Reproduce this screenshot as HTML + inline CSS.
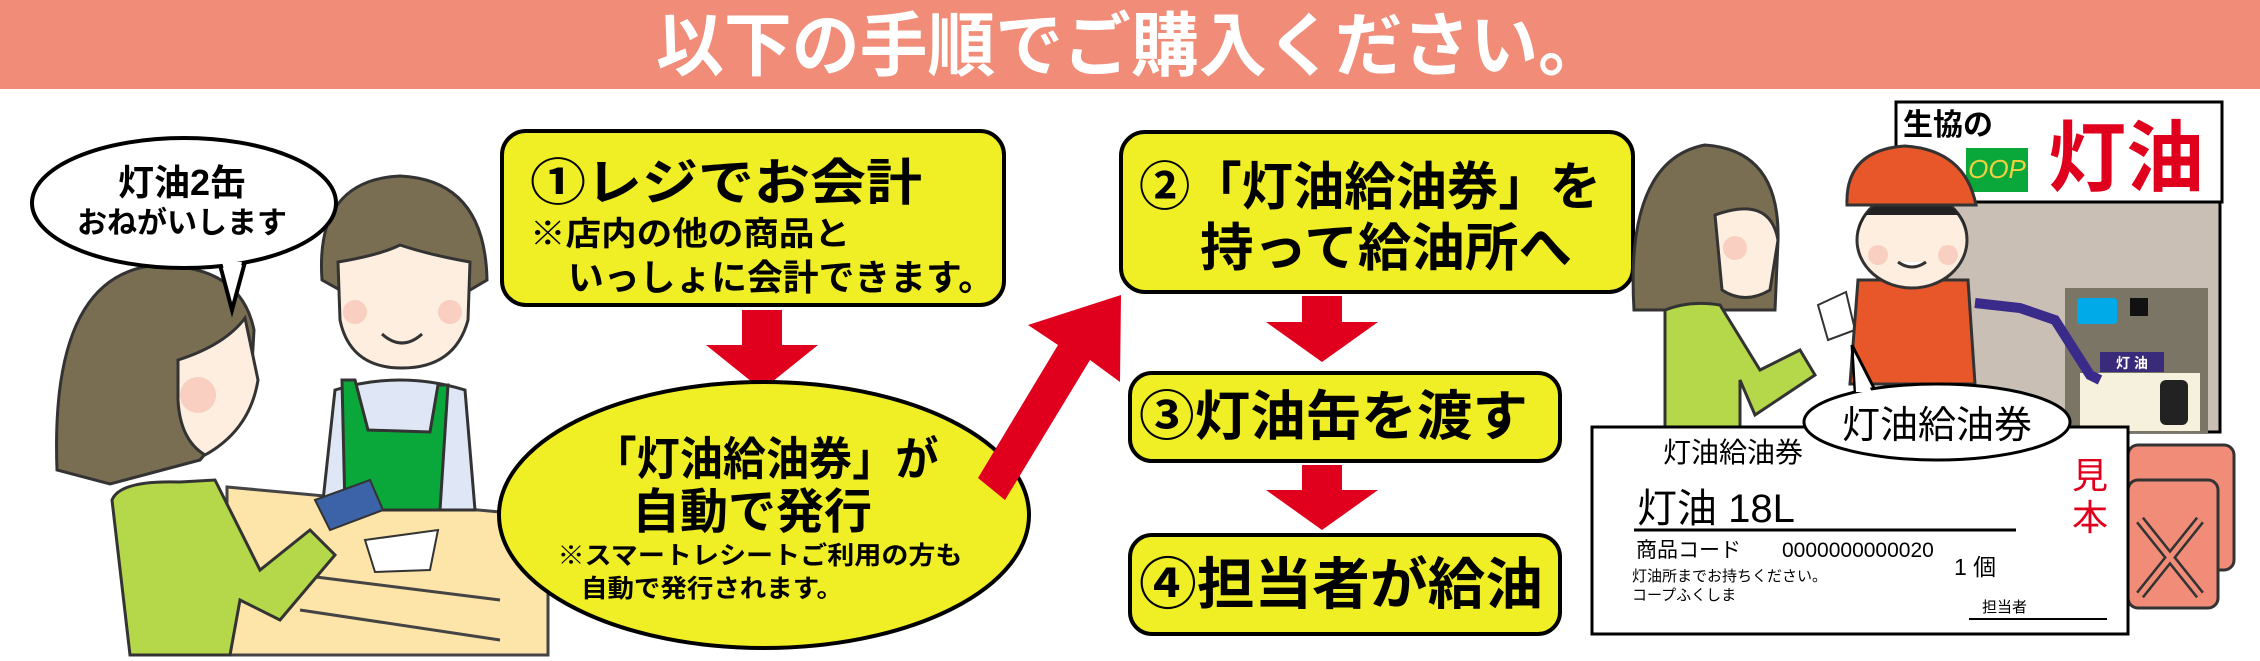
<!DOCTYPE html>
<html><head><meta charset="utf-8"><style>
html,body{margin:0;padding:0;background:#fff;}
svg{display:block;}
text{font-family:"Liberation Sans","Noto Sans CJK JP",sans-serif;font-weight:bold;}
</style></head><body>
<svg width="2260" height="661" viewBox="0 0 2260 661" xmlns="http://www.w3.org/2000/svg">
<!-- header -->
<rect x="0" y="0" width="2260" height="89" fill="#f08c78"/>
<text x="1131" y="70" font-size="70" fill="#fff" text-anchor="middle" textLength="950" lengthAdjust="spacingAndGlyphs">以下の手順でご購入ください。</text>

<!-- left illustration -->
<polygon points="227,487 500,512 548,512 548,655 227,655" fill="#fde4a8" stroke="#444" stroke-width="3"/>
<line x1="300" y1="575" x2="500" y2="600" stroke="#444" stroke-width="3"/>
<line x1="300" y1="610" x2="500" y2="640" stroke="#444" stroke-width="3"/>
<!-- clerk -->
<path d="M322,510 L335,390 Q400,370 465,390 L475,510 Z" fill="#dfe6f5" stroke="#333" stroke-width="3"/>
<path d="M355,380 L368,430 L430,432 L438,385 L448,385 L440,510 L345,510 L342,380 Z" fill="#0aa83a" stroke="#333" stroke-width="3"/>
<path d="M322,280 Q315,180 400,176 Q485,180 487,280 L470,290 L340,290 Z" fill="#7a6e52" stroke="#333" stroke-width="3"/>
<path d="M338,262 Q380,255 400,245 Q430,255 470,262 L468,320 Q455,368 402,368 Q350,368 340,320 Z" fill="#fdeee0" stroke="#333" stroke-width="3"/>
<circle cx="355" cy="312" r="12" fill="#f8cfc0"/><circle cx="450" cy="312" r="12" fill="#f8cfc0"/>
<path d="M382,334 Q402,352 422,334" fill="none" stroke="#333" stroke-width="3"/>
<polygon points="315,500 370,480 383,510 330,530" fill="#3c63a8" stroke="#333" stroke-width="2"/>
<polygon points="365,540 438,530 430,570 375,572" fill="#fff" stroke="#333" stroke-width="2"/>
<!-- woman left -->
<path d="M57,470 Q50,280 150,266 Q240,262 254,330 L250,400 L200,460 L110,484 Z" fill="#7a6e52" stroke="#333" stroke-width="3"/>
<path d="M178,360 Q225,345 245,318 L258,380 Q250,430 205,455 Q180,440 178,400 Z" fill="#fdeee0" stroke="#333" stroke-width="3"/>
<circle cx="198" cy="395" r="18" fill="#f8cfc0"/>
<path d="M112,500 Q120,480 180,482 L215,480 L260,570 L310,530 L335,555 L280,620 L240,600 L230,655 L130,655 Z" fill="#b4d84a" stroke="#333" stroke-width="3"/>
<!-- bubble left -->
<path d="M220,265 L232,310 L245,262 Z" fill="#fff" stroke="#000" stroke-width="4"/>
<ellipse cx="184" cy="203" rx="152" ry="65" fill="#fff" stroke="#000" stroke-width="4"/>
<path d="M222,262 L232,300 L242,262 Z" fill="#fff"/>
<text x="182" y="195" font-size="36" text-anchor="middle">灯油2缶</text>
<text x="182" y="233" font-size="30" text-anchor="middle">おねがいします</text>

<!-- box1 -->
<rect x="502" y="131" width="502" height="174" rx="24" fill="#f0ef26" stroke="#000" stroke-width="4"/>
<text x="530" y="200" font-size="50" textLength="392" lengthAdjust="spacingAndGlyphs">①レジでお会計</text>
<text x="530" y="245" font-size="33" textLength="320" lengthAdjust="spacingAndGlyphs">※店内の他の商品と</text>
<text x="568" y="290" font-size="36" textLength="426" lengthAdjust="spacingAndGlyphs">いっしょに会計できます。</text>
<!-- arrow1 -->
<polygon points="742,310 782,310 782,345 818,345 762,390 706,345 742,345" fill="#e0001e"/>
<!-- ellipse -->
<ellipse cx="764" cy="515" rx="265" ry="133" fill="#f0ef26" stroke="#000" stroke-width="4"/>
<text x="766" y="475" font-size="46" text-anchor="middle" textLength="345" lengthAdjust="spacingAndGlyphs">「灯油給油券」が</text>
<text x="752" y="528" font-size="48" text-anchor="middle">自動で発行</text>
<text x="760" y="564" font-size="25" text-anchor="middle" textLength="405" lengthAdjust="spacingAndGlyphs">※スマートレシートご利用の方も</text>
<text x="712" y="597" font-size="25" text-anchor="middle" textLength="262" lengthAdjust="spacingAndGlyphs">自動で発行されます。</text>
<!-- diagonal arrow -->
<polygon points="978,478 1005,500 1090,360 1120,382 1121,295 1028,325 1058,345" fill="#e0001e"/>

<!-- box2 -->
<rect x="1121" y="132" width="512" height="160" rx="24" fill="#f0ef26" stroke="#000" stroke-width="4"/>
<text x="1139" y="205" font-size="52" textLength="462" lengthAdjust="spacingAndGlyphs">②「灯油給油券」を</text>
<text x="1200" y="266" font-size="52" textLength="372" lengthAdjust="spacingAndGlyphs">持って給油所へ</text>
<polygon points="1302,296 1342,296 1342,322 1378,322 1322,362 1266,322 1302,322" fill="#e0001e"/>
<!-- box3 -->
<rect x="1130" y="373" width="430" height="88" rx="22" fill="#f0ef26" stroke="#000" stroke-width="4"/>
<text x="1139" y="435" font-size="54" textLength="389" lengthAdjust="spacingAndGlyphs">③灯油缶を渡す</text>
<polygon points="1302,465 1342,465 1342,490 1378,490 1322,530 1266,490 1302,490" fill="#e0001e"/>
<!-- box4 -->
<rect x="1130" y="535" width="430" height="99" rx="22" fill="#f0ef26" stroke="#000" stroke-width="4"/>
<text x="1139" y="604" font-size="56" textLength="404" lengthAdjust="spacingAndGlyphs">④担当者が給油</text>

<!-- right illustration -->
<rect x="1937" y="202" width="283" height="230" fill="#c9bfb5" stroke="#000" stroke-width="3"/>
<rect x="1896" y="102" width="326" height="100" fill="#fff" stroke="#000" stroke-width="3"/>
<text x="1948" y="135" font-size="30" text-anchor="middle">生協の</text>
<rect x="1966" y="148" width="62" height="44" fill="#0aa83a"/>
<text x="1997" y="178" font-size="26" fill="#f0d040" font-style="italic" text-anchor="middle" style="font-weight:normal">OOP</text>
<text x="2126" y="185" font-size="78" fill="#e0001e" text-anchor="middle">灯油</text>
<!-- pump -->
<rect x="2065" y="288" width="143" height="145" fill="#7a7564"/>
<rect x="2077" y="298" width="40" height="26" rx="3" fill="#00a9e8"/>
<rect x="2130" y="298" width="18" height="18" fill="#111"/>
<rect x="2100" y="352" width="64" height="20" fill="#3a2a7a"/>
<text x="2132" y="368" font-size="14" fill="#fff" text-anchor="middle">灯 油</text>
<rect x="2080" y="373" width="120" height="58" fill="#f6f1dc"/>
<rect x="2160" y="380" width="28" height="45" rx="6" fill="#222"/>
<path d="M1975,303 L2020,308 L2055,320 L2090,375 L2100,380" fill="none" stroke="#3a2a8a" stroke-width="10"/>
<!-- woman right -->
<path d="M1634,310 Q1625,160 1705,145 Q1780,150 1778,240 L1775,310 Z" fill="#7a6e52" stroke="#333" stroke-width="3"/>
<path d="M1715,215 Q1770,195 1778,240 L1770,290 Q1745,305 1722,290 Z" fill="#fdeee0" stroke="#333" stroke-width="3"/>
<circle cx="1735" cy="248" r="12" fill="#f8cfc0"/>
<path d="M1665,310 Q1690,300 1720,305 L1760,370 L1800,350 L1815,375 L1755,415 L1740,380 L1740,430 L1665,430 Z" fill="#b4d84a" stroke="#333" stroke-width="3"/>
<polygon points="1818,305 1846,292 1855,330 1828,340" fill="#fff" stroke="#333" stroke-width="2"/>
<!-- attendant -->
<path d="M1858,280 L1968,280 L1975,384 L1850,384 Z" fill="#e8572a" stroke="#333" stroke-width="3"/>
<ellipse cx="1912" cy="240" rx="55" ry="48" fill="#fdeee0" stroke="#333" stroke-width="3"/>
<path d="M1857,235 Q1860,200 1912,195 Q1965,200 1968,235 L1960,215 L1865,215 Z" fill="#222"/>
<path d="M1847,205 Q1845,150 1905,146 Q1965,150 1976,205 Z" fill="#e8572a" stroke="#333" stroke-width="3"/>
<circle cx="1878" cy="255" r="10" fill="#f8cfc0"/><circle cx="1948" cy="255" r="10" fill="#f8cfc0"/>
<path d="M1898,262 Q1912,272 1926,262" fill="#fff" stroke="#333" stroke-width="3"/>
<!-- cans -->
<rect x="2128" y="445" width="106" height="125" rx="10" fill="#f08c78" stroke="#333" stroke-width="3"/>
<rect x="2128" y="480" width="90" height="128" rx="10" fill="#f08c78" stroke="#333" stroke-width="3"/>
<path d="M2140,520 L2200,595 M2200,520 L2140,595" stroke="#333" stroke-width="10"/>
<path d="M2140,520 L2200,595 M2200,520 L2140,595" stroke="#f08c78" stroke-width="5"/>
<!-- ticket -->
<rect x="1592" y="427" width="536" height="207" fill="#fff" stroke="#000" stroke-width="3"/>
<text x="1663" y="462" font-size="28" style="font-weight:normal">灯油給油券</text>
<text x="1637" y="522" font-size="40" style="font-weight:normal">灯油 18L</text>
<line x1="1634" y1="530" x2="2016" y2="530" stroke="#000" stroke-width="3"/>
<text x="1636" y="557" font-size="21" style="font-weight:normal">商品コード</text>
<text x="1782" y="557" font-size="21" style="font-weight:normal">0000000000020</text>
<text x="1954" y="575" font-size="23" style="font-weight:normal">1 個</text>
<text x="1632" y="581" font-size="15" style="font-weight:normal">灯油所までお持ちください。</text>
<text x="1632" y="600" font-size="15" style="font-weight:normal">コープふくしま</text>
<text x="1982" y="612" font-size="15" style="font-weight:normal">担当者</text>
<line x1="1969" y1="619" x2="2107" y2="619" stroke="#000" stroke-width="2"/>
<text x="2090" y="488" font-size="36" fill="#e0001e" text-anchor="middle" style="font-weight:normal">見</text>
<text x="2090" y="530" font-size="36" fill="#e0001e" text-anchor="middle" style="font-weight:normal">本</text>
<!-- bubble right -->
<path d="M1855,390 L1852,345 L1875,390 Z" fill="#fff" stroke="#000" stroke-width="3"/>
<ellipse cx="1937" cy="422" rx="133" ry="38" fill="#fff" stroke="#000" stroke-width="3"/>
<path d="M1856,392 L1854,355 L1872,392 Z" fill="#fff"/>
<text x="1937" y="438" font-size="38" text-anchor="middle" style="font-weight:normal">灯油給油券</text>
</svg>
</body></html>
